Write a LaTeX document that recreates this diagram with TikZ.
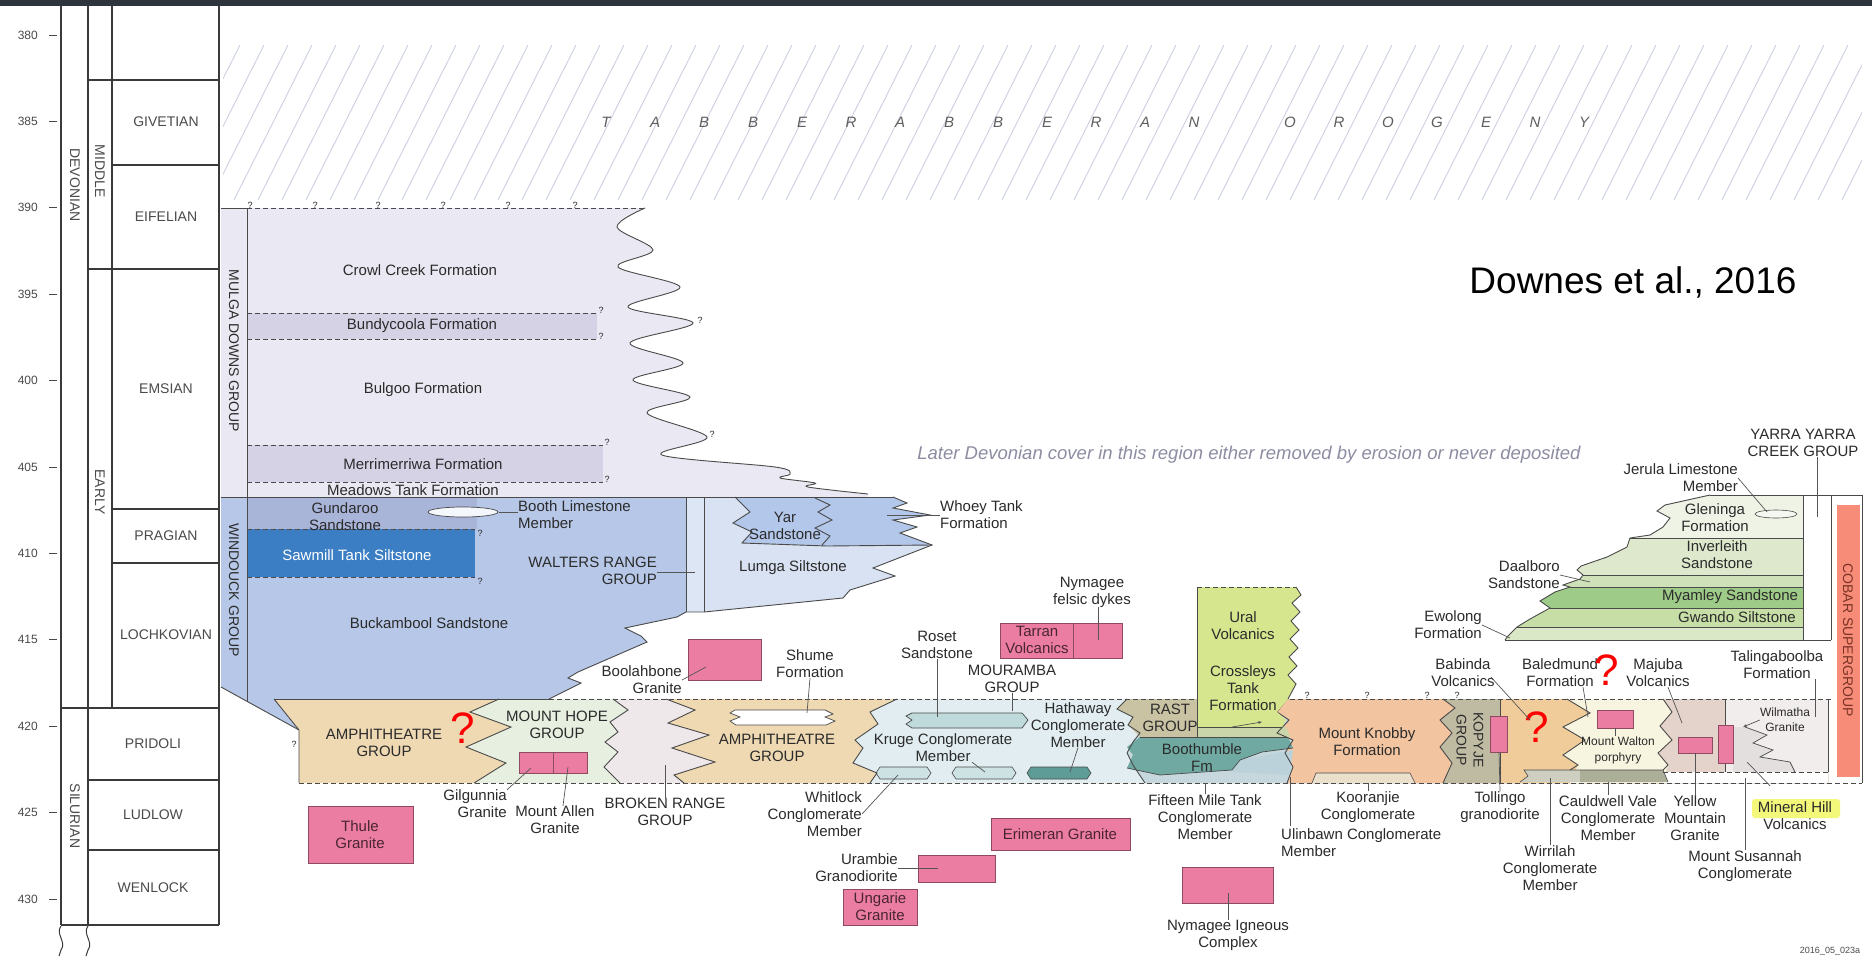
\documentclass[tikz,border=0pt]{standalone}
\usepackage{fontspec}
\setmainfont{Liberation Sans}
\usetikzlibrary{arrows.meta}
\newcommand\myfs[2]{\fontsize{#1}{#2}\selectfont}
\definecolor{topbar}{HTML}{2E343C}
\definecolor{frame}{HTML}{3A3A3A}
\definecolor{txt}{HTML}{2B2B2B}
\definecolor{bndc}{HTML}{4A4A4A}
\definecolor{leadc}{HTML}{555555}
\definecolor{hatchc}{HTML}{C9CCDF}
\definecolor{mulga}{HTML}{EAE8F2}
\definecolor{mulgad}{HTML}{D6D2E6}
\definecolor{wind}{HTML}{B6C7E7}
\definecolor{gund}{HTML}{A9B4D9}
\definecolor{sawm}{HTML}{3C7EC4}
\definecolor{walt}{HTML}{DDE6F4}
\definecolor{lumga}{HTML}{D8E2F2}
\definecolor{yar}{HTML}{B3C7EA}
\definecolor{amph}{HTML}{EED9B3}
\definecolor{mthope}{HTML}{E6EFE0}
\definecolor{broken}{HTML}{EEE8EA}
\definecolor{mour}{HTML}{E1EDF1}
\definecolor{roset}{HTML}{BEDADA}
\definecolor{kruge}{HTML}{CDE2E2}
\definecolor{hath}{HTML}{5E9C98}
\definecolor{rast}{HTML}{C9C3A4}
\definecolor{ural}{HTML}{D6E68E}
\definecolor{urallow}{HTML}{CAD6AA}
\definecolor{booth}{HTML}{6FA9A1}
\definecolor{boothl}{HTML}{BBD2DA}
\definecolor{boothb}{HTML}{C6D8DE}
\definecolor{knob}{HTML}{F3C4A0}
\definecolor{koor}{HTML}{EAE0CC}
\definecolor{kopy}{HTML}{BFBBA3}
\definecolor{tanr}{HTML}{EFCC99}
\definecolor{walton}{HTML}{F7F4DF}
\definecolor{wirr}{HTML}{CFCFC1}
\definecolor{cauld}{HTML}{ABAF98}
\definecolor{maj}{HTML}{E4D3CA}
\definecolor{wilm}{HTML}{F1EDED}
\definecolor{minh}{HTML}{E3DFDF}
\definecolor{pinkc}{HTML}{EC7DA2}
\definecolor{pinkd}{HTML}{8E4A5E}
\definecolor{pinkt}{HTML}{4A2530}
\definecolor{cobar}{HTML}{F78D78}
\definecolor{cobart}{HTML}{7B3326}
\definecolor{glen}{HTML}{EEF3E6}
\definecolor{inver}{HTML}{DDE8CC}
\definecolor{daal}{HTML}{CFE1B8}
\definecolor{myam}{HTML}{9ECB87}
\definecolor{gwan}{HTML}{C7DFA7}
\definecolor{gbot}{HTML}{DAE8C7}
\definecolor{yellowhl}{HTML}{F3F77A}
\definecolor{orog}{HTML}{5E5E5E}
\definecolor{later}{HTML}{8C8CA2}
\definecolor{stgc}{HTML}{4A4A4A}
\tikzset{
  lbl/.style={font=\myfs{15}{17}, text=txt, inner sep=0pt, align=center},
  vlbl/.style={lbl, rotate=-90, font=\myfs{14}{16}},
  stg/.style={font=\myfs{14}{16}, text=stgc, inner sep=0pt, align=center},
  agel/.style={font=\myfs{12}{14}, text=stgc, inner sep=0pt, anchor=east},
  frm/.style={draw=frame, line width=1.4pt},
  bnd/.style={draw=bndc, line width=0.9pt},
  dsh/.style={draw=bndc, line width=0.9pt, dash pattern=on 5pt off 3pt},
  lead/.style={draw=leadc, line width=0.7pt},
  pbox/.style={fill=pinkc, draw=pinkd, line width=0.8pt},
  ptxt/.style={lbl, text=pinkt},
  qm/.style={font=\myfs{9}{10}, text=txt, inner sep=0pt},
  redq/.style={font=\myfs{44}{46}, text=red, inner sep=0pt},
  hatch/.style={draw=hatchc, line width=0.8pt},
  orogl/.style={font=\itshape\myfs{15}{16}, text=orog, inner sep=0pt},
}
\begin{document}
\begin{tikzpicture}[x=1pt,y=-1pt]
\useasboundingbox (0,0) rectangle (1872,959);
\fill[white] (0,0) rectangle (1872,959);
\fill[topbar] (0,0) rectangle (1872,6);

% ---------------- hatching (Tabberabberan Orogeny)
\begin{scope}
\clip (223,45) rectangle (1862,200);
\foreach \i in {0,...,72} {\draw[hatch] ({162+\i*24},200) -- ++(78,-155);}
\end{scope}
\foreach \L [count=\k] in {T,A,B,B,E,R,A,B,B,E,R,A,N}
  {\node[orogl] (ta\k) at ({606+(\k-1)*49},122) {\L};}
\foreach \L [count=\k] in {O,R,O,G,E,N,Y}
  {\node[orogl] (tb\k) at ({1290+(\k-1)*49},122) {\L};}

% ---------------- time scale
\draw[frm] (61,6) -- (61,925);
\draw[frm] (88,6) -- (88,925);
\draw[frm] (112,6) -- (112,708);
\draw[frm] (219,6) -- (219,925);
\draw[frm] (88,80) -- (219,80);
\draw[frm] (112,165) -- (219,165);
\draw[frm] (88,269) -- (219,269);
\draw[frm] (112,509) -- (219,509);
\draw[frm] (112,563) -- (219,563);
\draw[frm] (61,708) -- (219,708);
\draw[frm] (88,780) -- (219,780);
\draw[frm] (88,850) -- (219,850);
\draw[frm] (61,925) -- (219,925);
\draw[draw=frame,line width=1pt] (61,926) .. controls (55,934) and (67,942) .. (61,950) -- (59,956);
\draw[draw=frame,line width=1pt] (88,926) .. controls (82,934) and (94,942) .. (88,950) -- (86,956);
\foreach \a [evaluate=\a as \yy using 35+(\a-380)*17.28] in {380,385,...,430}
  {\draw[draw=stgc,line width=0.8pt] (49,\yy) -- (57,\yy);
   \node[agel] (age\a) at (38,\yy) {\a};}
\node[stg] (givet) at (166,122) {GIVETIAN};
\node[stg] (eifel) at (166,217) {EIFELIAN};
\node[stg] (emsian) at (166,389) {EMSIAN};
\node[stg] (pragian) at (166,536) {PRAGIAN};
\node[stg] (lochk) at (166,635) {LOCHKOVIAN};
\node[stg] (pridoli) at (153,744) {PRIDOLI};
\node[stg] (ludlow) at (153,815) {LUDLOW};
\node[stg] (wenlock) at (153,888) {WENLOCK};
\node[stg, rotate=-90] (devon) at (75,185) {DEVONIAN};
\node[stg, rotate=-90] (middle) at (100,171) {MIDDLE};
\node[stg, rotate=-90] (early) at (100,492) {EARLY};
\node[stg, rotate=-90] (silur) at (75,816) {SILURIAN};

% ---------------- Mulga Downs Group
\fill[mulga] (221,208) -- (645,208) -- plot[smooth,tension=0.55] coordinates {(645,208) (617,227) (653,250) (618,267) (680,287) (628,307) (693,323) (630,343) (683,363) (633,380) (690,397) (647,413) (707,437) (662,455) (775,467) (790,474) (780,478) (815,483) (808,487) (868,494)} -- (868,497) -- (221,497) -- cycle;
\fill[mulgad] (247,313) rectangle (597,339);
\fill[mulgad] (247,445) rectangle (603,482);
\draw[bnd] plot[smooth,tension=0.55] coordinates {(645,208) (617,227) (653,250) (618,267) (680,287) (628,307) (693,323) (630,343) (683,363) (633,380) (690,397) (647,413) (707,437) (662,455) (775,467) (790,474) (780,478) (815,483) (808,487) (868,494)};
\draw[bnd] (221,208) -- (247,208);
\draw[dsh] (247,208) -- (645,208);
\draw[dsh] (247,313) -- (597,313);
\draw[dsh] (247,339) -- (597,339);
\draw[dsh] (247,445) -- (603,445);
\draw[dsh] (247,482) -- (603,482);
\foreach \xx [count=\k] in {250,315,378,443,508,575} {\node[qm] (qt\k) at (\xx,205) {?};}
\node[qm] (qb1) at (601,310) {?};
\node[qm] (qb2) at (601,336) {?};
\node[qm] (qb3) at (607,442) {?};
\node[qm] (qb4) at (607,479) {?};
\node[qm] (qw1) at (700,320) {?};
\node[qm] (qw2) at (712,434) {?};

% ---------------- Windouck Group
\fill[wind] (221,497) -- (686,497) -- (686,612) -- (677,617) -- (625,628) -- (641,636) -- (647,642) -- (578,672) -- (568,678) -- (581,683) -- (549,699) -- (274,699) -- (299,730) -- (221,687) -- cycle;
\fill[gund] (247,497) rectangle (477,529);
\fill[sawm] (247,529) rectangle (475,577);
\draw[dsh] (247,529) -- (475,529);
\draw[dsh] (247,577) -- (475,577);
\node[qm] (qs1) at (480,533) {?};
\node[qm] (qs2) at (480,581) {?};
\draw[bnd] (686,612) -- (677,617) -- (625,628) -- (641,636) -- (647,642) -- (578,672) -- (568,678) -- (581,683) -- (549,699);
\draw[bnd] (221,687) -- (299,730);
\draw[bnd] (247,208) -- (247,701);
\fill[white!85!wind] (463,512) ellipse [x radius=35, y radius=5];
\draw[bnd, line width=0.7pt] (463,512) ellipse [x radius=35, y radius=5];

% Walters Range column and Lumga
\fill[walt] (686,497) rectangle (704,612);
\fill[lumga] (704,497) -- (893,497) -- (907,503) -- (893,508) -- (930,515) -- (893,520) -- (917,527) -- (900,533) -- (932,545) -- (873,568) -- (895,576) -- (850,590) -- (843,598) -- (704,612) -- cycle;
\fill[yar] (735,497) -- (893,497) -- (907,503) -- (893,508) -- (930,515) -- (893,520) -- (917,527) -- (900,533) -- (932,545) -- (827,546) -- (742,543) -- (752,532) -- (733,523) -- (750,512) -- cycle;
\draw[bnd] (893,497) -- (907,503) -- (893,508) -- (930,515) -- (893,520) -- (917,527) -- (900,533) -- (932,545) -- (873,568) -- (895,576) -- (850,590) -- (843,598) -- (704,612) -- (686,612);
\draw[bnd] (735,497) -- (750,512) -- (733,523) -- (752,532) -- (742,543) -- (827,546) -- (932,545);
\draw[bnd] (815,498) -- (830,505) -- (818,512) -- (832,520) -- (815,528) -- (830,536) -- (822,545);
\draw[bnd] (686,497) -- (686,612);
\draw[bnd] (704,497) -- (704,612);
\draw[bnd] (221,497) -- (893,497);

% ---------------- Silurian band fills (left to right, each to the right end)
\fill[amph] (274,699) -- (299,730) -- (299,783) -- (1828,783) -- (1828,699) -- cycle;
\fill[mthope] (499,699) -- (470,712) -- (511,727) -- (466,747) -- (506,763) -- (474,783) -- (1828,783) -- (1828,699) -- cycle;
\fill[broken] (613,699) -- (628,710) -- (610,722) -- (618,732) -- (605,742) -- (618,752) -- (604,767) -- (620,783) -- (1828,783) -- (1828,699) -- cycle;
\fill[amph] (666,699) -- (695,710) -- (668,723) -- (709,735) -- (672,748) -- (715,762) -- (674,775) -- (684,783) -- (1828,783) -- (1828,699) -- cycle;
\fill[mour] (897,699) -- (870,712) -- (878,724) -- (855,740) -- (863,748) -- (853,763) -- (877,773) -- (870,783) -- (1828,783) -- (1828,699) -- cycle;
\fill[boothb] (1127,699) -- (1117,709) -- (1133,717) -- (1128,725) -- (1140,733) -- (1133,742) -- (1127,753) -- (1133,765) -- (1145,783) -- (1828,783) -- (1828,699) -- cycle;
\fill[knob] (1287,699) -- (1277,712) -- (1289,720) -- (1277,733) -- (1293,740) -- (1285,753) -- (1293,767) -- (1287,783) -- (1828,783) -- (1828,699) -- cycle;
\fill[kopy] (1443,699) -- (1455,708) -- (1440,720) -- (1452,733) -- (1440,747) -- (1452,763) -- (1443,783) -- (1828,783) -- (1828,699) -- cycle;
\fill[tanr] (1500,699) -- (1500,783) -- (1828,783) -- (1828,699) -- cycle;
\fill[walton] (1567,699) -- (1590,713) -- (1563,727) -- (1585,740) -- (1563,755) -- (1578,765) -- (1570,783) -- (1828,783) -- (1828,699) -- cycle;
\fill[maj] (1663,699) -- (1672,712) -- (1660,726) -- (1672,740) -- (1658,753) -- (1668,765) -- (1663,783) -- (1828,783) -- (1828,699) -- cycle;
\fill[wilm] (1725,699) rectangle (1828,783);
\fill[white] (1663,772) rectangle (1828,783);
\fill[minh] (1733,727) -- (1745,727) -- (1767,735) -- (1753,743) -- (1773,750) -- (1760,757) -- (1790,762) -- (1795,772) -- (1733,772) -- cycle;
\draw[bnd, line width=0.7pt] (1745,727) -- (1767,735) -- (1753,743) -- (1773,750) -- (1760,757) -- (1790,762) -- (1795,772);

% Rast, under-Ural strip, Boothumble
\fill[rast] (1127,699) -- (1197,699) -- (1197,737) -- (1140,737) -- (1128,725) -- (1133,717) -- (1117,709) -- cycle;
\fill[urallow] (1197,727) -- (1286,727) -- (1290,737) -- (1197,739) -- cycle;
\fill[booth] (1140,737) -- (1288,737) -- (1293,748) -- (1262,752) -- (1240,760) -- (1232,770) -- (1160,775) -- (1127,768) -- (1133,755) -- (1127,747) -- cycle;
\fill[boothl] (1240,760) -- (1293,750) -- (1290,775) -- (1232,772) -- cycle;
\draw[bnd, line width=0.7pt] (1140,737) -- (1288,737);
\draw[bnd, line width=0.7pt] (1293,748) -- (1262,752) -- (1240,760) -- (1232,770) -- (1160,775) -- (1127,768);

% lenses
\fill[white] (735,710) -- (825,710) -- (833,714) -- (825,717) -- (835,721) -- (826,725) -- (736,725) -- (730,721) -- (740,717) -- (730,713) -- cycle;
\draw[bnd, line width=0.7pt] (735,710) -- (825,710) -- (833,714) -- (825,717) -- (835,721) -- (826,725) -- (736,725) -- (730,721) -- (740,717) -- (730,713) -- cycle;
\fill[roset] (912,713) -- (1022,713) -- (1028,720) -- (1022,728) -- (912,728) -- (906,724) -- (912,720) -- (906,716) -- cycle;
\draw[bnd, line width=0.7pt] (912,713) -- (1022,713) -- (1028,720) -- (1022,728) -- (912,728) -- (906,724) -- (912,720) -- (906,716) -- cycle;
\fill[kruge] (880,767) -- (927,767) -- (931,773) -- (927,779) -- (880,779) -- (876,773) -- cycle;
\draw[bnd, line width=0.6pt] (880,767) -- (927,767) -- (931,773) -- (927,779) -- (880,779) -- (876,773) -- cycle;
\fill[kruge] (956,767) -- (1012,767) -- (1016,773) -- (1012,779) -- (956,779) -- (952,773) -- cycle;
\draw[bnd, line width=0.6pt] (956,767) -- (1012,767) -- (1016,773) -- (1012,779) -- (956,779) -- (952,773) -- cycle;
\fill[hath] (1031,767) -- (1087,767) -- (1091,773) -- (1087,779) -- (1031,779) -- (1027,773) -- cycle;
\draw[bnd, line width=0.6pt] (1031,767) -- (1087,767) -- (1091,773) -- (1087,779) -- (1031,779) -- (1027,773) -- cycle;
\fill[koor] (1316,773) -- (1410,773) -- (1415,783) -- (1312,783) -- cycle;
\draw[bnd, line width=0.6pt] (1312,783) -- (1316,773) -- (1410,773) -- (1415,783);
\fill[wirr] (1524,770) -- (1580,770) -- (1580,782) -- (1520,782) -- (1528,776) -- cycle;
\fill[cauld] (1580,770) -- (1663,770) -- (1668,782) -- (1580,782) -- cycle;
\draw[bnd, line width=0.6pt] (1520,782) -- (1528,776) -- (1524,770) -- (1663,770) -- (1668,782);

% boundaries in band
\draw[bnd] (274,699) -- (299,730) -- (299,783);
\draw[bnd] (499,699) -- (470,712) -- (511,727) -- (466,747) -- (506,763) -- (474,783);
\draw[bnd] (613,699) -- (628,710) -- (610,722) -- (618,732) -- (605,742) -- (618,752) -- (604,767) -- (620,783);
\draw[bnd] (666,699) -- (695,710) -- (668,723) -- (709,735) -- (672,748) -- (715,762) -- (674,775) -- (684,783);
\draw[bnd] (897,699) -- (870,712) -- (878,724) -- (855,740) -- (863,748) -- (853,763) -- (877,773) -- (870,783);
\draw[bnd] (1127,699) -- (1117,709) -- (1133,717) -- (1128,725) -- (1140,733) -- (1133,742) -- (1127,753) -- (1133,765) -- (1145,783);
\draw[bnd] (1287,699) -- (1277,712) -- (1289,720) -- (1277,733) -- (1293,740) -- (1285,753) -- (1293,767) -- (1287,783);
\draw[bnd] (1443,699) -- (1455,708) -- (1440,720) -- (1452,733) -- (1440,747) -- (1452,763) -- (1443,783);
\draw[bnd] (1500,699) -- (1500,783);
\draw[bnd] (1567,699) -- (1590,713) -- (1563,727) -- (1585,740) -- (1563,755) -- (1578,765) -- (1570,770);
\draw[bnd] (1663,699) -- (1672,712) -- (1660,726) -- (1672,740) -- (1658,753) -- (1668,765) -- (1663,770);
\draw[bnd] (1725,699) -- (1725,772);
\draw[bnd] (1828,699) -- (1828,772);
\draw[dsh] (1663,772) -- (1828,772);
\draw[bnd] (274,699) -- (549,699);
\draw[dsh] (549,699) -- (1197,699);
\draw[dsh] (1290,699) -- (1831,699);
\draw[dsh] (299,783) -- (1862,783);
\node[qm] (qa1) at (294,744) {?};
\foreach \xx [count=\k] in {1307,1367,1427,1457} {\node[qm] (qk\k) at (\xx,695) {?};}

% Ural / Crossleys box
\fill[ural] (1197,587) -- (1296,587) -- (1301,595) -- (1292,603) -- (1300,612) -- (1291,621) -- (1299,630) -- (1290,639) -- (1298,648) -- (1289,657) -- (1297,666) -- (1288,675) -- (1296,684) -- (1288,699) -- (1277,712) -- (1286,720) -- (1282,727) -- (1197,727) -- cycle;
\draw[bnd] (1296,587) -- (1301,595) -- (1292,603) -- (1300,612) -- (1291,621) -- (1299,630) -- (1290,639) -- (1298,648) -- (1289,657) -- (1297,666) -- (1288,675) -- (1296,684) -- (1288,699);
\draw[dsh] (1197,587) -- (1296,587);
\draw[bnd] (1197,587) -- (1197,737);
\draw[bnd] (1197,727) -- (1282,727);
\draw[lead,-{Stealth[length=4pt]}] (1232,727) -- (1262,722);

% ---------------- right-hand green stack and Cobar
\fill[glen] (1710,495) -- (1803,495) -- (1803,538) -- (1630,538) -- (1650,535) -- (1663,527) -- (1670,518) -- (1657,511) -- (1665,505) -- cycle;
\fill[inver] (1630,538) -- (1803,538) -- (1803,575) -- (1583,575) -- (1577,570) -- (1581,566) -- (1607,557) -- (1627,547) -- cycle;
\fill[daal] (1583,575) -- (1803,575) -- (1803,587) -- (1570,587) -- (1563,585) -- (1580,579) -- cycle;
\fill[myam] (1570,587) -- (1803,587) -- (1803,608) -- (1550,608) -- (1540,601) -- (1555,592) -- cycle;
\fill[gwan] (1550,608) -- (1803,608) -- (1803,627) -- (1517,627) -- (1530,619) -- cycle;
\fill[gbot] (1517,627) -- (1803,627) -- (1803,640) -- (1505,640) -- (1508,636) -- cycle;
\draw[bnd] (1710,495) -- (1665,505) -- (1657,511) -- (1670,518) -- (1663,527) -- (1650,535) -- (1630,538) -- (1627,547) -- (1607,557) -- (1581,566) -- (1577,570) -- (1583,575) -- (1580,579) -- (1563,585) -- (1570,587) -- (1555,592) -- (1540,601) -- (1550,608) -- (1530,619) -- (1517,627) -- (1508,636) -- (1505,640);
\draw[bnd] (1630,538) -- (1803,538);
\draw[bnd] (1583,575) -- (1803,575);
\draw[bnd, line width=0.6pt] (1570,587) -- (1803,587);
\draw[bnd] (1550,608) -- (1803,608);
\draw[bnd, line width=0.6pt] (1517,627) -- (1803,627);
\draw[bnd] (1505,640) -- (1831,640);
\draw[bnd] (1710,495) -- (1862,495);
\draw[bnd] (1803,495) -- (1803,640);
\draw[bnd] (1831,495) -- (1831,640);
\draw[bnd] (1862,495) -- (1862,783);
\fill[glen!60!white] (1776,514) ellipse [x radius=21, y radius=4];
\draw[bnd, line width=0.6pt] (1776,514) ellipse [x radius=21, y radius=4];
\fill[cobar] (1837,505) rectangle (1860,777);
\node[vlbl, text=cobart] (cobart) at (1848,640) {COBAR SUPERGROUP};

% ---------------- granite boxes
\fill[pbox] (688,639) rectangle (761,680);
\fill[pbox] (519,752) rectangle (553,773);
\fill[pbox] (553,752) rectangle (587,773);
\fill[pbox] (1000,623) rectangle (1073,658);
\fill[pbox] (1073,623) rectangle (1122,658);
\fill[pbox] (308,806) rectangle (413,863);
\fill[pbox] (843,889) rectangle (917,925);
\fill[pbox] (918,855) rectangle (995,882);
\fill[pbox] (991,818) rectangle (1130,850);
\fill[pbox] (1182,867) rectangle (1273,903);
\fill[pbox] (1490,716) rectangle (1507,752);
\fill[pbox] (1597,710) rectangle (1633,728);
\fill[pbox] (1678,737) rectangle (1712,753);
\fill[pbox] (1718,725) rectangle (1733,763);
\draw[pbox, fill=none] (688,639) rectangle (761,680);
\draw[pbox, fill=none] (519,752) rectangle (587,773);
\draw[pbox, fill=none] (553,752) -- (553,773);
\draw[pbox, fill=none] (1000,623) rectangle (1122,658);
\draw[pbox, fill=none] (1073,623) -- (1073,658);

% ---------------- texts: Mulga & Windouck
\node[lbl] (crowl) at (420,270) {Crowl Creek Formation};
\node[lbl] (bundy) at (422,326) {Bundycoola Formation};
\node[lbl] (bulgoo) at (423,390) {Bulgoo Formation};
\node[lbl] (merri) at (423,464) {Merrimerriwa Formation};
\begin{scope}
\clip (247,484) rectangle (603,497);
\node[lbl] (meadows) at (413,490) {Meadows Tank Formation};
\end{scope}
\node[vlbl] (mulgag) at (234,351) {MULGA DOWNS GROUP};
\node[vlbl] (windg) at (234,590) {WINDOUCK GROUP};
\node[lbl] (gund) at (345,517) {Gundaroo\\Sandstone};
\node[lbl, anchor=west, align=left] (boothlm) at (518,515) {Booth Limestone\\Member};
\node[lbl, text=white] (sawmt) at (357,555) {Sawmill Tank Siltstone};
\node[lbl, anchor=east, align=right] (walters) at (657,571) {WALTERS RANGE\\GROUP};
\node[lbl] (buck) at (429,623) {Buckambool Sandstone};
\node[lbl] (yart) at (785,526) {Yar\\Sandstone};
\node[lbl] (lumgat) at (793,568) {Lumga Siltstone};
\node[lbl, anchor=west, align=left] (whoey) at (940,515) {Whoey Tank\\Formation};
\node[lbl, anchor=east, align=right] (boolt) at (682,680) {Boolahbone\\Granite};
\coordinate (boothc) at (499,512);
\coordinate (waltc) at (695,572);
\coordinate (whoeyc) at (887,515);
\coordinate (boolc) at (706,667);
\draw[lead] (boothlm.west |- boothc) -- (boothc);
\draw[lead] (walters.east |- waltc) -- (waltc);
\draw[lead] (whoey.west |- whoeyc) -- (whoeyc);
\draw[lead] (boolt.east) -- (boolc);

% ---------------- texts: band
\node[lbl] (amph1) at (384,743) {AMPHITHEATRE\\GROUP};
\node[redq] (rq1) at (463,728) {?};
\node[lbl] (mthopet) at (557,725) {MOUNT HOPE\\GROUP};
\node[lbl, anchor=east, align=right] (gilg) at (507,804) {Gilgunnia\\Granite};
\node[lbl] (mtallen) at (555,820) {Mount Allen\\Granite};
\node[lbl] (brokent) at (665,812) {BROKEN RANGE\\GROUP};
\node[lbl] (amph2) at (777,748) {AMPHITHEATRE\\GROUP};
\node[lbl] (shume) at (810,664) {Shume\\Formation};
\node[lbl] (roset) at (937,645) {Roset\\Sandstone};
\node[lbl] (moura) at (1012,679) {MOURAMBA\\GROUP};
\node[lbl] (kruget) at (943,748) {Kruge Conglomerate\\Member};
\node[lbl, anchor=east, align=right] (whit) at (862,814) {Whitlock\\Conglomerate\\Member};
\node[lbl] (hathw) at (1078,725) {Hathaway\\Conglomerate\\Member};
\node[lbl] (rastt) at (1170,718) {RAST\\GROUP};
\node[lbl] (uralt) at (1243,626) {Ural\\Volcanics};
\node[lbl] (crosst) at (1243,688) {Crossleys\\Tank\\Formation};
\node[lbl] (boothum) at (1202,758) {Boothumble\\Fm};
\node[lbl] (fifteen) at (1205,817) {Fifteen Mile Tank\\Conglomerate\\Member};
\node[lbl] (knobby) at (1367,742) {Mount Knobby\\Formation};
\node[lbl] (koorj) at (1368,807) {Kooranjie\\Conglomerate};
\node[lbl, anchor=north west, align=left] (ulin) at (1281,828) {Ulinbawn Conglomerate\\Member};
\node[vlbl, font=\myfs{14}{17}] (kopyje) at (1470,740) {KOPYJE\\GROUP};
\node[lbl] (tollingo) at (1500,807) {Tollingo\\granodiorite};
\node[lbl] (babinda) at (1463,673) {Babinda\\Volcanics};
\node[redq] (rq2) at (1537,727) {?};
\node[lbl] (baled) at (1560,673) {Baledmund\\Formation};
\node[redq] (rq3) at (1607,670) {?};
\node[lbl, font=\myfs{12}{16}] (walton) at (1618,750) {Mount Walton\\porphyry};
\node[lbl] (wirril) at (1550,868) {Wirrilah\\Conglomerate\\Member};
\node[lbl] (cauldw) at (1608,818) {Cauldwell Vale\\Conglomerate\\Member};
\node[lbl] (majuba) at (1658,673) {Majuba\\Volcanics};
\node[lbl] (yellowm) at (1695,818) {Yellow\\Mountain\\Granite};
\node[lbl, font=\myfs{12}{15}] (wilmat) at (1785,720) {Wilmatha\\Granite};
\fill[yellowhl, rounded corners=3pt] (1752,799) rectangle (1840,818);
\node[lbl] (minhill) at (1795,816) {Mineral Hill\\Volcanics};
\node[lbl] (susann) at (1745,866) {Mount Susannah\\Conglomerate};
\node[lbl] (taling) at (1777,665) {Talingaboolba\\Formation};
\node[lbl] (yarra) at (1803,443) {YARRA YARRA\\CREEK GROUP};
\node[lbl, anchor=east, align=right] (jerula) at (1738,478) {Jerula Limestone\\Member};
\node[lbl] (glent) at (1715,518) {Gleninga\\Formation};
\node[lbl] (invert) at (1717,555) {Inverleith\\Sandstone};
\node[lbl] (myamt) at (1730,597) {Myamley Sandstone};
\node[lbl] (gwant) at (1737,617) {Gwando Siltstone};
\node[lbl, anchor=east, align=right] (daalt) at (1560,575) {Daalboro\\Sandstone};
\node[lbl, anchor=east, align=right] (ewol) at (1482,625) {Ewolong\\Formation};
\node[lbl] (nymfel) at (1092,592) {Nymagee\\felsic dykes};

% granite box texts
\node[ptxt] (tarran) at (1037,640) {Tarran\\Volcanics};
\node[ptxt] (thule) at (360,835) {Thule\\Granite};
\node[ptxt] (ungarie) at (880,907) {Ungarie\\Granite};
\node[ptxt] (erim) at (1060,834) {Erimeran Granite};
\node[lbl, anchor=east, align=right] (uramb) at (898,868) {Urambie\\Granodiorite};
\node[lbl] (nymig) at (1228,935) {Nymagee Igneous\\Complex};

% leader end points
\coordinate (gilgc) at (531,768);
\coordinate (allenc) at (568,767);
\coordinate (brokc) at (665,765);
\coordinate (shumec) at (807,713);
\coordinate (rosetc) at (937,717);
\coordinate (mourc) at (1012,711);
\coordinate (krugec) at (985,772);
\coordinate (whitc) at (898,775);
\coordinate (hathc) at (1070,772);
\coordinate (fiftc) at (1205,783);
\coordinate (koorc) at (1368,783);
\coordinate (ulinc) at (1290,777);
\coordinate (tollc) at (1499,752);
\coordinate (babc) at (1530,720);
\coordinate (balc) at (1588,717);
\coordinate (wirrc) at (1550,778);
\coordinate (cauldc) at (1608,782);
\coordinate (majc) at (1682,723);
\coordinate (yellc) at (1695,753);
\coordinate (wilmc) at (1743,727);
\coordinate (minc) at (1747,762);
\coordinate (susc) at (1745,778);
\coordinate (talc) at (1815,717);
\coordinate (yarrc) at (1817,517);
\coordinate (jerc) at (1767,512);
\coordinate (daalc) at (1590,582);
\coordinate (ewolc) at (1510,638);
\coordinate (nymfc) at (1098,640);
\coordinate (urambc) at (938,868);
\coordinate (nymic) at (1228,893);
\coordinate (waltonc) at (1615,728);

\draw[lead] (gilg.north east) -- (gilgc);
\draw[lead] (mtallen.north) ++(8,0) -- (allenc);
\draw[lead] (brokent.north) -- (brokc);
\draw[lead] (shume.south) -- (shumec);
\draw[lead] (roset.south) -- (rosetc);
\draw[lead] (moura.south) -- (mourc);
\draw[lead] (kruget.south) ++(29,0) -- (krugec);
\draw[lead] (whit.east) -- (whitc);
\draw[lead] (hathw.south) -- (hathc);
\draw[lead] (fifteen.north) -- (fiftc);
\draw[lead] (koorj.north) -- (koorc);
\draw[lead] (ulin.north west) ++(9,-2) -- (ulinc);
\draw[lead] (tollingo.north) -- (tollc);
\draw[lead] (babinda.east) ++(-4,4) -- (babc);
\draw[lead] (baled.south) ++(23,0) -- (balc);
\draw[lead] (wirril.north) -- (wirrc);
\draw[lead] (cauldw.north) -- (cauldc);
\draw[lead] (majuba.south) ++(10,0) -- (majc);
\draw[lead] (yellowm.north) -- (yellc);
\draw[lead,-{Stealth[length=4pt]}] (wilmat.west) -- (wilmc);
\draw[lead] (minhill.north) ++(-25,-16) -- (minc);
\draw[lead] (susann.north) -- (susc);
\draw[lead] (taling.south) ++(38,0) -- (talc);
\draw[lead] (yarra.south) ++(14,0) -- (yarrc);
\draw[lead] (jerula.east) -- (jerc);
\draw[lead] (daalt.east) -- (daalc);
\draw[lead] (ewol.east) -- (ewolc);
\draw[lead] (nymfel.south) ++(6,0) -- (nymfc);
\draw[lead] (uramb.east) -- (urambc);
\draw[lead] (nymig.north) -- (nymic);
\draw[lead] (walton.north) ++(-3,0) -- (waltonc);

% ---------------- free texts
\node[font=\myfs{37}{40}, text=black, inner sep=0pt] (cite) at (1633,282) {Downes et al., 2016};
\node[font=\itshape\myfs{18.5}{20}, text=later, inner sep=0pt] (laterdev) at (1249,455) {Later Devonian cover in this region either removed by erosion or never deposited};
\node[font=\myfs{9}{10}, text=stgc, inner sep=0pt] (code) at (1830,951) {2016\_05\_023a};
\end{tikzpicture}
\end{document}
